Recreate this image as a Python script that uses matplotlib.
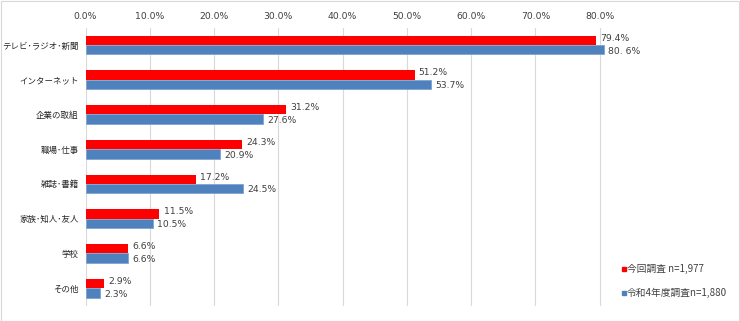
import numpy as np
import matplotlib
matplotlib.use("Agg")
import matplotlib.pyplot as plt
from matplotlib.patches import Rectangle

plt.rcParams['font.family'] = ['Noto Sans CJK JP', 'DejaVu Sans']

categories = ["テレビ･ラジオ･新聞", "インターネット", "企業の取組", "職場･仕事",
              "雑誌･書籍", "家族･知人･友人", "学校", "その他"]
current = [79.4, 51.2, 31.2, 24.3, 17.2, 11.5, 6.6, 2.9]
previous = [80.6, 53.7, 27.6, 20.9, 24.5, 10.5, 6.6, 2.3]
current_labels = ["79.4%", "51.2%", "31.2%", "24.3%", "17.2%", "11.5%", "6.6%", "2.9%"]
previous_labels = ["80. 6%", "53.7%", "27.6%", "20.9%", "24.5%", "10.5%", "6.6%", "2.3%"]
series_names = ["今回調査 n=1,977", "令和4年度調査n=1,880"]
xticks = [0, 10, 20, 30, 40, 50, 60, 70, 80]

red = "#FF0000"
blue = "#4F81BD"
txt = "#404040"
num_font = "DejaVu Sans"

fig = plt.figure(figsize=(7.4, 3.21), dpi=100)
ax = fig.add_axes([85.5 / 740, 1 - 305.5 / 321, (664 - 85.5) / 740, (305.5 - 27.6) / 321])

y = np.arange(len(categories))
h = 0.27
ax.barh(y - h / 2, current, height=h, color=red, zorder=3)
ax.barh(y + h / 2, previous, height=h, color=blue, edgecolor="#7FA3D3", linewidth=0.6, zorder=3)

for i in range(len(categories)):
    ax.annotate(current_labels[i], (current[i], y[i] - h / 2), xytext=(3, 1.5),
                textcoords="offset points", va="center", ha="left", fontsize=6.7,
                color=txt, family=num_font)
    ax.annotate(previous_labels[i], (previous[i], y[i] + h / 2), xytext=(3, -1),
                textcoords="offset points", va="center", ha="left", fontsize=6.7,
                color=txt, family=num_font)

ax.set_xlim(0, 90)
ax.set_ylim(len(categories) - 0.5, -0.5)
ax.set_xticks(xticks)
ax.set_xticklabels([f"{v:.1f}%" for v in xticks], family=num_font)
ax.xaxis.tick_top()
ax.tick_params(axis="x", length=0, pad=5, labelsize=6.7, labelcolor=txt)
ax.set_yticks(y)
ax.set_yticklabels(categories)
ax.tick_params(axis="y", length=0, pad=5, labelsize=6.1, labelcolor="#262626")
ax.grid(axis="x", color="#D9D9D9", linewidth=0.8, zorder=0)
for s in ax.spines.values():
    s.set_visible(False)

# legend drawn by hand at the lower right
for k, (name, col) in enumerate(zip(series_names, [red, blue])):
    ly = 1 - (269 + k * 24) / 321
    fig.patches.append(Rectangle((621.5 / 740, ly - 2 / 321), 4 / 740, 4 / 321,
                                 transform=fig.transFigure, color=col))
    fig.text(627 / 740, ly, name, fontsize=7, color=txt, va="center", ha="left")

# outer frame
fig.patches.append(Rectangle((0.5 / 740, 0.5 / 321), 738.5 / 740, 319.5 / 321,
                             transform=fig.transFigure, fill=False,
                             edgecolor="#D9D9D9", linewidth=0.8))

fig.savefig("out.png", dpi=100)
